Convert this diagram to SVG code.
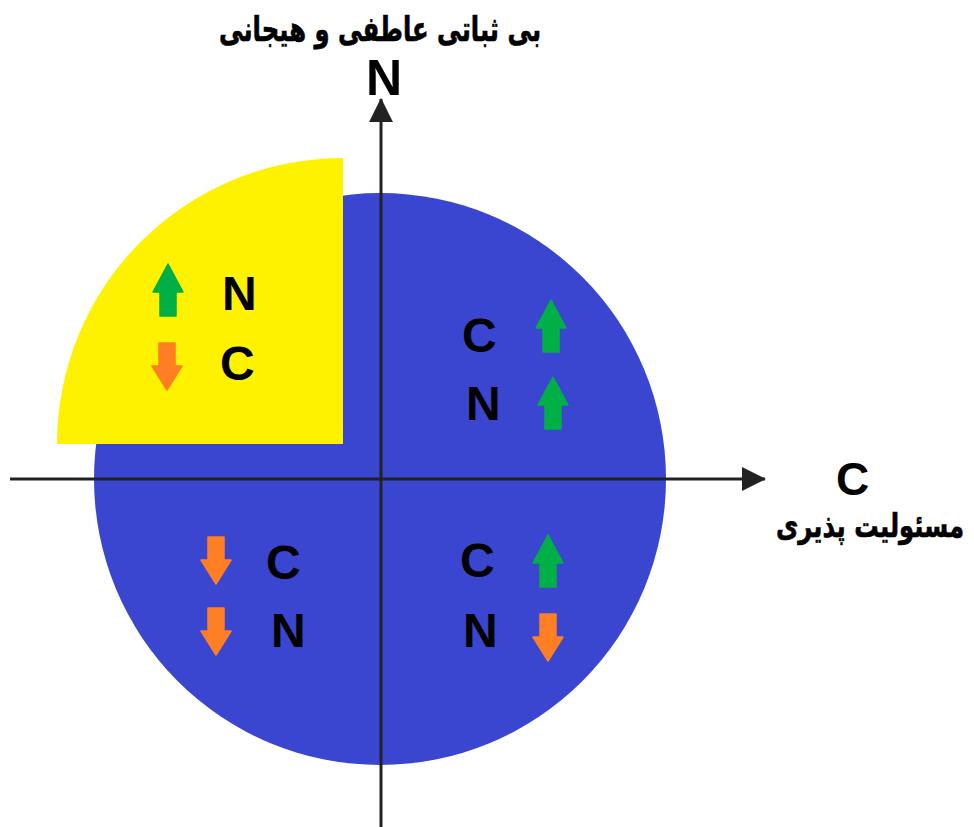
<svg xmlns="http://www.w3.org/2000/svg" width="974" height="827" viewBox="0 0 974 827">
<style>
.lbl{font-family:"Liberation Sans",Arial,sans-serif;font-weight:bold;fill:#000}
.fa{font-family:"DejaVu Sans","Noto Sans",sans-serif;font-weight:bold;fill:#000;stroke:#000;stroke-width:0.6;text-anchor:middle}
.axis{stroke:#222;stroke-width:3;fill:none}
.up{fill:#00B046;stroke:#00B046;stroke-width:1.5;stroke-linejoin:round}
.dn{fill:#FF7F22;stroke:#FF7F22;stroke-width:1.5;stroke-linejoin:round}
</style>
<defs>
<path id="upArrow" d="M15,0 L30,28 L23,28 L23,52 L7,52 L7,28 L0,28 Z"/>
<path id="dnArrow" d="M7,0 L23,0 L23,23 L30,23 L15,47 L0,23 L7,23 Z"/>
<marker id="ah" markerWidth="8" markerHeight="8" refX="7.7" refY="4" orient="auto" markerUnits="strokeWidth"><path d="M0,0 L8,4 L0,8 Z" fill="#222"/></marker>
</defs>
<g id="quadrant-blue">
<circle cx="380" cy="479" r="286" fill="#3A45D0"/>
</g>
<g id="quadrant-yellow">
<path d="M343,444 L57,444 A286,286 0 0 1 343,158 Z" fill="#FFF200"/>
</g>
<g id="connectors">
<line class="axis" x1="10" y1="479" x2="765" y2="479" marker-end="url(#ah)"/>
<line class="axis" x1="381" y1="827" x2="381" y2="99" marker-end="url(#ah)"/>
</g>
<g id="axis-n">
<text class="fa" transform="translate(380,41) scale(0.81,1.15)" x="0" y="0" font-size="30" direction="rtl">بی ثباتی عاطفی و هیجانی</text>
<text class="lbl" x="366" y="95" font-size="50">N</text>
</g>
<g id="axis-c">
<text class="lbl" x="836" y="495" font-size="46">C</text>
<text class="fa" transform="translate(870,537) scale(0.84,1.12)" x="0" y="0" font-size="29" direction="rtl">مسئولیت پذیری</text>
</g>
<g id="q-top-left">
<use href="#upArrow" class="up" x="153" y="264"/>
<use href="#dnArrow" class="dn" x="152" y="343"/>
<text class="lbl" x="222" y="310" font-size="48">N</text>
<text class="lbl" x="220" y="380" font-size="48">C</text>
</g>
<g id="q-top-right">
<text class="lbl" x="462" y="352" font-size="48">C</text>
<text class="lbl" x="466" y="420" font-size="48">N</text>
<use href="#upArrow" class="up" x="536" y="300"/>
<use href="#upArrow" class="up" x="538" y="377"/>
</g>
<g id="q-bottom-left">
<use href="#dnArrow" class="dn" x="201" y="537"/>
<use href="#dnArrow" class="dn" x="201" y="608"/>
<text class="lbl" x="266" y="579" font-size="48">C</text>
<text class="lbl" x="271" y="647" font-size="48">N</text>
</g>
<g id="q-bottom-right">
<text class="lbl" x="460" y="577" font-size="48">C</text>
<text class="lbl" x="463" y="647" font-size="48">N</text>
<use href="#upArrow" class="up" x="533" y="535"/>
<use href="#dnArrow" class="dn" x="533" y="614"/>
</g>
</svg>
